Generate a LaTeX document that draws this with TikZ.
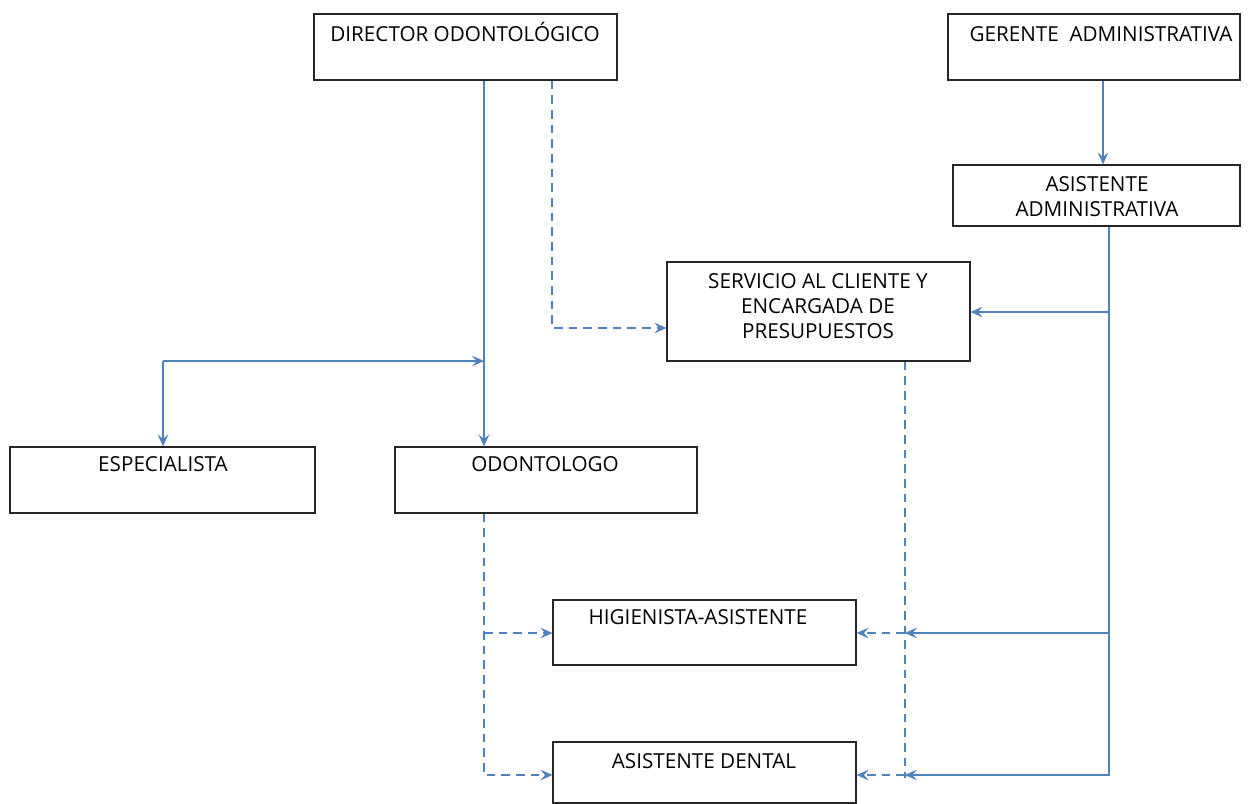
\documentclass[tikz,border=0pt]{standalone}
\usepackage{fontspec}
\setmainfont{Open Sans}
\usetikzlibrary{fit,arrows.meta}
\definecolor{lb}{RGB}{79,129,189}
\begin{document}
\begin{tikzpicture}[x=0.75pt,y=-0.75pt,
 box/.style={draw=black!85, line width=0.9pt, inner sep=0pt},
 txt/.style={font=\fontsize{15.5}{18.4}\selectfont, inner sep=0pt, align=center, anchor=base},
 ln/.style={draw=lb, line width=1.1pt},
 arr/.style={ln, -{Stealth[length=9pt,width=8pt,inset=3.5pt]}},
 dsh/.style={dash pattern=on 6.5pt off 4.5pt},
 darr/.style={arr, dsh}]
\useasboundingbox (0,0) rectangle (1248,803);
% boxes
\node[box, fit={(314,14)(617,80)}] (dir) {};
\node[box, fit={(948,14)(1240,80)}] (ger) {};
\node[box, fit={(953,165)(1240,226)}] (asa) {};
\node[box, fit={(667,262)(970,361)}] (serv) {};
\node[box, fit={(10,447)(315,513)}] (esp) {};
\node[box, fit={(395,447)(697,513)}] (odo) {};
\node[box, fit={(553,600)(856,665)}] (hig) {};
\node[box, fit={(553,742)(856,803)}] (ad) {};
% texts
\node[txt] (dirT) at (465,41) {DIRECTOR ODONTOLÓGICO};
\node[txt] (gerT) at (1101,41) {GERENTE\ \ ADMINISTRATIVA};
\node[txt] (asaT) at (1097,216) {ASISTENTE\\ADMINISTRATIVA};
\node[txt] (servT) at (818,338) {SERVICIO AL CLIENTE Y\\ENCARGADA DE\\PRESUPUESTOS};
\node[txt] (espT) at (163,471) {ESPECIALISTA};
\node[txt] (odoT) at (545,471) {ODONTOLOGO};
\node[txt] (higT) at (698,624) {HIGIENISTA-ASISTENTE};
\node[txt] (adT) at (704,768) {ASISTENTE DENTAL};
% helper coordinates
\coordinate (xa) at (484,0);
\coordinate (xs) at (163,0);
\coordinate (xd) at (552,0);
\coordinate (xg) at (1103,0);
\coordinate (xr) at (1109,0);
\coordinate (xv) at (905,0);
\coordinate (yb) at (0,361);
\coordinate (ysd) at (0,328);
\coordinate (ysv) at (0,312);
\coordinate (yhi) at (0,633);
\coordinate (yad) at (0,775);
\coordinate (yend) at (0,778);
% connectors
\draw[arr] (dir.south -| xa) -- (odo.north -| xa);
\draw[arr] (xs |- yb) -- (xa |- yb);
\draw[arr] (xs |- yb) -- (esp.north -| xs);
\draw[darr] (dir.south -| xd) -- (xd |- ysd) -- (serv.west |- ysd);
\draw[arr] (ger.south -| xg) -- (asa.north -| xg);
\draw[arr] (asa.south -| xr) -- (xr |- yad) -- (xv |- yad);
\draw[arr] (xr |- ysv) -- (serv.east |- ysv);
\draw[arr] (xr |- yhi) -- (xv |- yhi);
\draw[ln, dsh] (serv.south -| xv) -- (xv |- yend);
\draw[darr] (xv |- yhi) -- (hig.east |- yhi);
\draw[darr] (xv |- yad) -- (ad.east |- yad);
\draw[darr] (odo.south -| xa) -- (xa |- yad) -- (ad.west |- yad);
\draw[darr] (xa |- yhi) -- (hig.west |- yhi);
\end{tikzpicture}
\end{document}
